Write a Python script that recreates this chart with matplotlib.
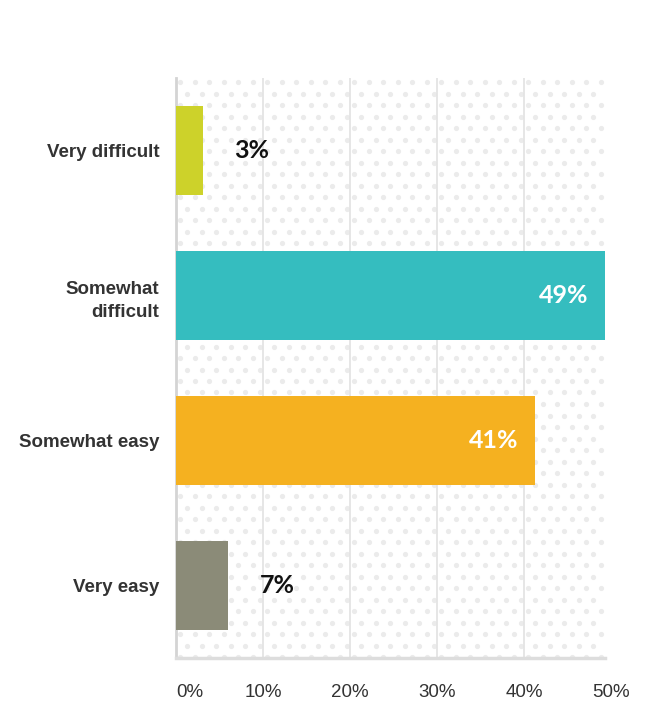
import numpy as np
import matplotlib.pyplot as plt
from matplotlib.transforms import blended_transform_factory

# -----------------------------
# Data
# -----------------------------
categories = ["Very difficult", "Somewhat\ndifficult", "Somewhat easy", "Very easy"]
values = [3.1, 49.3, 41.3, 6.0]
value_labels = ["3%", "49%", "41%", "7%"]
colors = ["#cdd22a", "#35bdbf", "#f5b120", "#8b8b78"]
inside = [False, True, True, False]
tick_vals = [0, 10, 20, 30, 40, 50]
tick_labels = ["0%", "10%", "20%", "30%", "40%", "50%"]

# -----------------------------
# Figure
# -----------------------------
W, H = 658, 704
fig = plt.figure(figsize=(W / 100, H / 100), dpi=100)
ax = fig.add_axes([176 / W, 46 / H, 429 / W, 580 / H])

xmax = 49.3
ax.set_xlim(0, xmax)
ax.set_ylim(3.5, -0.5)

# dotted background pattern (pixel grid)
aw, ah = 429, 580
dx, dy = 14.5, 11.5
px, py = [], []
row = 0
yy = 4
while yy < ah:
    off = 0 if row % 2 == 0 else dx / 2
    xx = 4 + off
    while xx < aw:
        px.append(xx / aw)
        py.append(1 - yy / ah)
        xx += dx
    yy += dy
    row += 1
ax.scatter(px, py, s=14, color="#ebebeb", transform=ax.transAxes,
           zorder=0, linewidths=0, clip_on=True)

# gridlines
for t in tick_vals[1:]:
    if t < xmax:
        ax.axvline(t, color="#e4e4e4", lw=1.3, zorder=0.5)

y = np.arange(len(categories))
ax.barh(y, values, height=0.62, color=colors, zorder=3)

for i, (v, lab) in enumerate(zip(values, value_labels)):
    if inside[i]:
        ax.text(v - 1.9, i, lab, ha="right", va="center", color="white",
                fontsize=18, fontweight="bold", family="Lato", zorder=4)
    else:
        ax.text(v + 3.6, i, lab, ha="left", va="center", color="#111111",
                fontsize=18, fontweight="bold", family="Lato", zorder=4)

# category labels
ax.set_yticks(y)
ax.set_yticklabels(categories, fontsize=13.5, fontweight="bold",
                   family="Liberation Sans", color="#333333",
                   linespacing=1.5, ha="right")
ax.tick_params(axis="y", length=0, pad=12)

# x tick labels drawn as text (50% lies past the axis end)
ax.set_xticks([])
trans = blended_transform_factory(ax.transData, ax.transAxes)
for t, lab in zip(tick_vals, tick_labels):
    xpos = t if t > 0 else 1.6
    ax.text(xpos, -0.045, lab, transform=trans, ha="center", va="top",
            fontsize=13.5, family="Liberation Sans", color="#333333",
            clip_on=False)

for s in ["top", "right"]:
    ax.spines[s].set_visible(False)
ax.spines["left"].set_color("#d4d4d4")
ax.spines["left"].set_linewidth(2)
ax.spines["bottom"].set_color("#dddddd")
ax.spines["bottom"].set_linewidth(2.5)

fig.savefig("out.png", dpi=100)
